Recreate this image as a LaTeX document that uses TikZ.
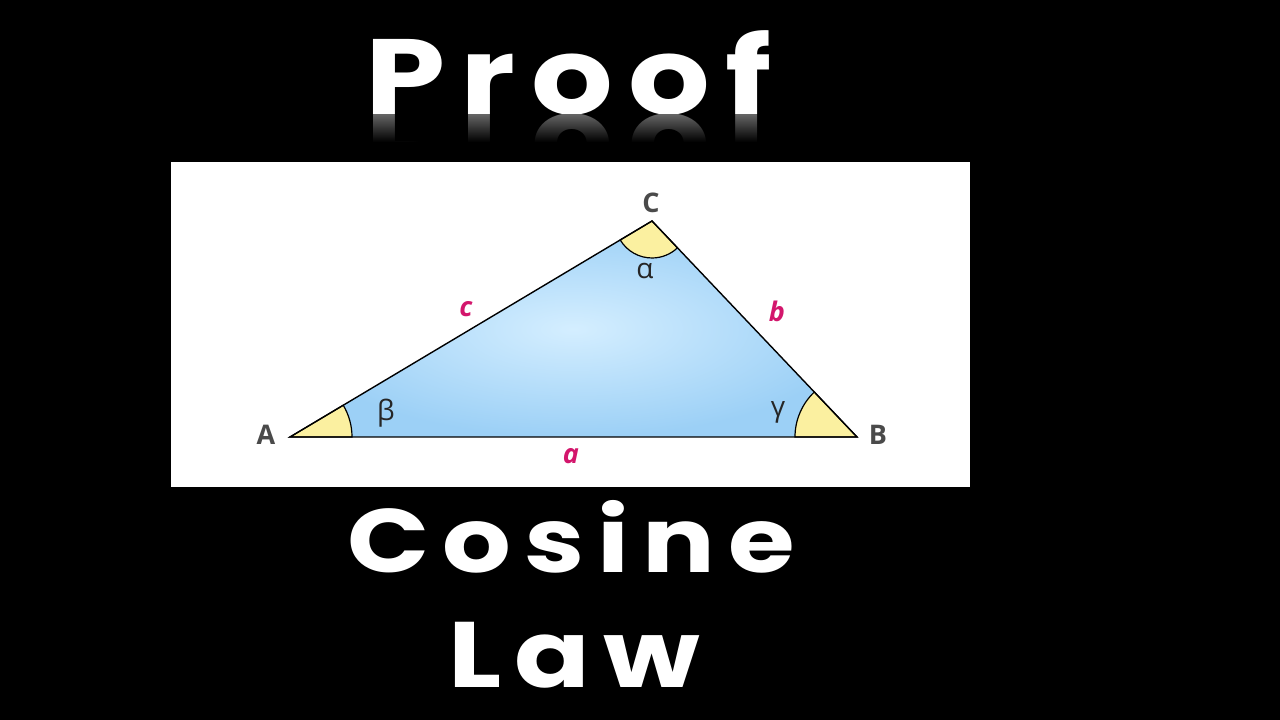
\documentclass[tikz,border=0pt]{standalone}
\usepackage{fontspec}
\setmainfont{Open Sans}
\newfontfamily\chalkfont[LetterSpace=12]{Poppins}
\usetikzlibrary{calc,fadings}
\definecolor{triblue}{HTML}{9CD0F6}
\definecolor{triblueC}{HTML}{D4EEFF}
\definecolor{angyel}{HTML}{FBF0A0}
\definecolor{labgray}{HTML}{4A4A4A}
\definecolor{sidemag}{HTML}{D3166C}
\tikzset{
  vertexlab/.style={text=labgray,font=\fontsize{27}{30}\selectfont\bfseries,inner sep=0},
  greeklab/.style={text=black!85,font=\fontsize{28}{30}\selectfont,inner sep=0},
  sidelab/.style={text=sidemag,font=\fontsize{27}{30}\selectfont\bfseries\itshape,inner sep=0},
  chalk/.style={text=white,inner sep=0,anchor=base west},
  anglesec/.style={fill=angyel},
  edge/.style={draw=black,line width=1.4pt,line join=miter},
}
\begin{document}
\begin{tikzpicture}[x=1pt,y=1pt]
\fill[black] (0,0) rectangle (1280,720);
\useasboundingbox (0,0) rectangle (1280,720);
% titles
\node[chalk,font=\chalkfont\bfseries\fontsize{107}{110}\selectfont] (proof) at (365,605) {\scalebox{1.2}[1]{Proof}};
\begin{scope}
\clip (340,578) rectangle (820,605);
\node[chalk,text=white!40!black,font=\chalkfont\bfseries\fontsize{107}{110}\selectfont] (proofrefl) at (365,605) {\scalebox{1.2}[-1]{Proof}};
\fill[black,path fading=north] (340,578) rectangle (820,606);
\end{scope}
\node[chalk,font=\chalkfont\bfseries\fontsize{90}{95}\selectfont] (cosine) at (347,147) {\scalebox{1.2}[1]{Cosine}};
\node[chalk,font=\chalkfont\bfseries\fontsize{93}{95}\selectfont] (law) at (448,32) {\scalebox{1.2}[1]{Law}};
% panel
\fill[white] (171,233) rectangle (970,558);
\coordinate (A) at (290,283);
\coordinate (B) at (857,283);
\coordinate (C) at (652,499);
\shade[inner color=triblueC,outer color=triblue] (A) -- (B) -- (C) -- cycle;
% angle sectors
\path let \p1=($(C)-(A)$), \n1={atan2(\y1,\x1)} in
  [anglesec] (A) -- ++(0:62) arc[start angle=0,end angle=\n1,radius=62] -- cycle
  [draw=black,line width=1.2pt] ($(A)+(0:62)$) arc[start angle=0,end angle=\n1,radius=62];
\path let \p1=($(C)-(B)$), \n1={atan2(\y1,\x1)} in
  [anglesec] (B) -- ++(\n1:62) arc[start angle=\n1,end angle=180,radius=62] -- cycle
  [draw=black,line width=1.2pt] ($(B)+(\n1:62)$) arc[start angle=\n1,end angle=180,radius=62];
\path let \p1=($(A)-(C)$), \p2=($(B)-(C)$), \n1={360+atan2(\y1,\x1)}, \n2={360+atan2(\y2,\x2)} in
  [anglesec] (C) -- ++(\n1:37) arc[start angle=\n1,end angle=\n2,radius=37] -- cycle
  [draw=black,line width=1.2pt] ($(C)+(\n1:37)$) arc[start angle=\n1,end angle=\n2,radius=37];
\draw[edge] (A) -- (B) -- (C) -- cycle;
% labels
\node[vertexlab] (labA) at (266,285) {A};
\node[vertexlab] (labB) at (878,285) {B};
\node[vertexlab] (labC) at (651,517) {C};
\node[greeklab] (alpha) at (645,449) {α};
\node[greeklab] (beta) at (386,307) {β};
\node[greeklab] (gamma) at (778,308) {γ};
\node[sidelab] (sidec) at (466,411) {c};
\node[sidelab] (sideb) at (777,409) {b};
\node[sidelab] (sidea) at (571,264) {a};
\end{tikzpicture}
\end{document}
